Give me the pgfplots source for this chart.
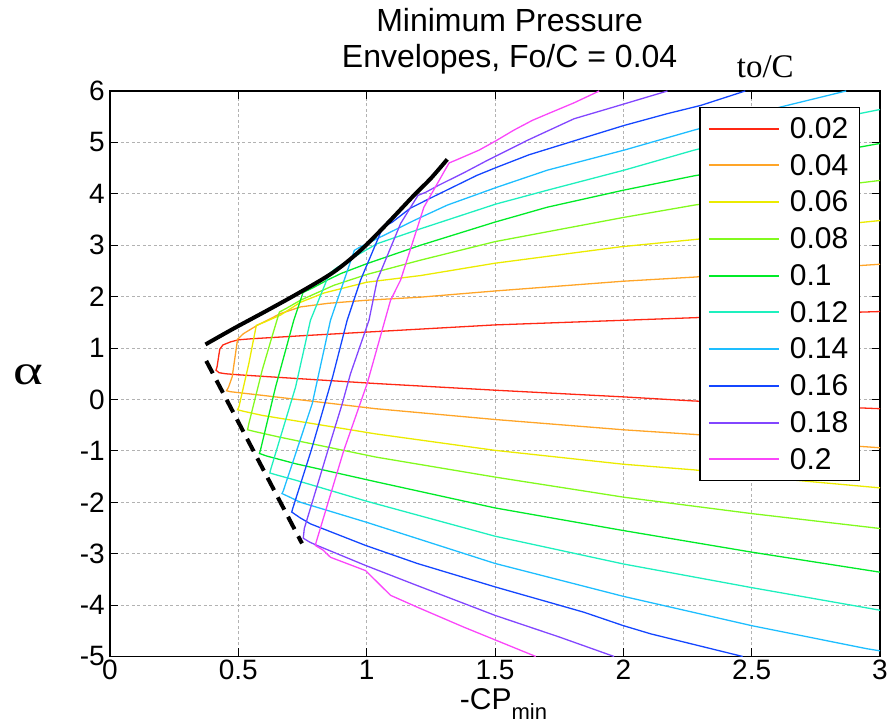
\documentclass[border=0pt]{standalone}
\usepackage{fontspec}
\setmainfont{Liberation Sans}
\newfontfamily\timesfont{Liberation Serif}
\usepackage{graphicx}
\usepackage{pgfplots}
\pgfplotsset{compat=1.18}
\definecolor{c1}{RGB}{255,40,20}
\definecolor{c2}{RGB}{255,165,40}
\definecolor{c3}{RGB}{235,235,0}
\definecolor{c4}{RGB}{130,250,30}
\definecolor{c5}{RGB}{0,235,40}
\definecolor{c6}{RGB}{30,240,190}
\definecolor{c7}{RGB}{30,190,255}
\definecolor{c8}{RGB}{20,70,255}
\definecolor{c9}{RGB}{130,70,255}
\definecolor{c10}{RGB}{250,70,250}
\begin{document}
\begin{tikzpicture}
\path[use as bounding box] (-110pt,-70.5pt) rectangle (784pt,656.5pt);
\begin{axis}[
  at={(0pt,0pt)}, anchor=south west,
  scale only axis, width=770pt, height=565.5pt,
  xmin=0, xmax=3, ymin=-5, ymax=6,
  xtick={0,0.5,1,1.5,2,2.5,3},
  xticklabels={0,0.5,1,1.5,2,2.5,3},
  ytick={-5,-4,-3,-2,-1,0,1,2,3,4,5,6},
  yticklabels={-5,-4,-3,-2,-1,0,1,2,3,4,5,6},
  grid=major,
  major grid style={gray!60, dash pattern=on 3pt off 2.5pt, line width=0.8pt},
  axis line style={line width=1.3pt},
  tick align=inside, major tick length=8pt,
  tick style={black, line width=1pt},
  ticklabel style={font=\fontsize{28}{30}\selectfont},
  yticklabel style={inner xsep=5pt},
  /pgf/number format/assume math mode=true,
  clip mode=individual,
  xlabel={-CP\raisebox{-10pt}{\fontsize{22}{24}\selectfont min}},
  xlabel style={at={(axis description cs:0.511,0)}, anchor=base, yshift=-53.5pt, font=\fontsize{30}{32}\selectfont},
  ylabel={\scalebox{1.35}[1.0]{α}},
  ylabel style={rotate=-90, at={(axis description cs:-0.1065,0.498)}, anchor=center, font=\timesfont\fontsize{42}{46}\selectfont},
  legend style={at={(0.974,0.972)}, anchor=north east, draw=black, line width=1.3pt, fill=white,
    font=\fontsize{30}{32}\selectfont, inner xsep=8pt, inner ysep=7pt, row sep=8.3pt,
    nodes={inner sep=3pt}, cells={anchor=west},
    /tikz/every odd column/.append style={column sep=7pt}},
  legend image code/.code={\draw[#1, line width=2pt] (0pt,0pt) -- (70pt,0pt);},
  every axis plot/.append style={line width=1.3pt},
]
\addplot[c1] coordinates {(3.0,1.71) (2.6,1.65) (2.276,1.59) (2.0,1.54) (1.5,1.45) (1.0,1.31) (0.75,1.24) (0.55,1.18) (0.50,1.16) (0.47,1.12) (0.44,1.06) (0.428,0.98) (0.424,0.86) (0.417,0.63) (0.413,0.57) (0.425,0.52) (0.45,0.50) (0.50,0.48) (0.593,0.45) (1.035,0.31) (1.5,0.18) (2.0,0.05) (2.276,-0.03) (2.6,-0.10) (3.0,-0.18)};
\addlegendentry{0.02}
\addplot[c2] coordinates {(3.0,2.63) (2.6,2.50) (2.276,2.38) (2.0,2.30) (1.5,2.11) (1.21,1.99) (1.0,1.93) (0.85,1.87) (0.742,1.80) (0.664,1.67) (0.573,1.44) (0.52,1.28) (0.497,1.17) (0.489,0.89) (0.476,0.44) (0.462,0.24) (0.454,0.17) (0.47,0.15) (0.593,0.08) (1.035,-0.18) (1.5,-0.39) (2.0,-0.59) (2.276,-0.68) (2.6,-0.80) (3.0,-0.94)};
\addlegendentry{0.04}
\addplot[c3] coordinates {(3.0,3.48) (2.6,3.28) (2.276,3.11) (1.99,2.97) (1.5,2.65) (1.21,2.41) (1.0,2.28) (0.833,2.07) (0.742,1.89) (0.664,1.64) (0.60,1.50) (0.570,1.44) (0.541,0.70) (0.502,-0.15) (0.497,-0.20) (0.52,-0.23) (0.593,-0.31) (1.035,-0.67) (1.5,-0.99) (2.0,-1.26) (2.276,-1.37) (2.6,-1.54) (3.0,-1.72)};
\addlegendentry{0.06}
\addplot[c4] coordinates {(3.0,4.26) (2.6,4.02) (2.276,3.78) (2.0,3.54) (1.5,3.07) (1.21,2.71) (1.0,2.43) (0.872,2.22) (0.742,1.93) (0.69,1.78) (0.660,1.70) (0.63,1.20) (0.593,0.57) (0.541,-0.47) (0.536,-0.59) (0.56,-0.62) (0.658,-0.73) (1.035,-1.12) (1.5,-1.51) (2.0,-1.90) (2.5,-2.22) (3.0,-2.51)};
\addlegendentry{0.08}
\addplot[c5] coordinates {(3.0,4.98) (2.6,4.62) (2.276,4.35) (2.0,4.07) (1.704,3.74) (1.5,3.45) (1.21,3.00) (1.0,2.64) (0.90,2.45) (0.846,2.32) (0.79,2.17) (0.752,2.08) (0.716,1.54) (0.645,0.24) (0.586,-0.99) (0.582,-1.05) (0.61,-1.10) (0.723,-1.25) (1.035,-1.60) (1.5,-2.11) (2.0,-2.55) (2.5,-2.97) (3.0,-3.36)};
\addlegendentry{0.1}
\addplot[c6] coordinates {(3.0,5.64) (2.6,5.24) (2.276,4.85) (2.003,4.46) (1.704,4.07) (1.503,3.80) (1.21,3.32) (1.041,3.03) (0.95,2.77) (0.88,2.55) (0.855,2.45) (0.781,1.54) (0.723,0.24) (0.625,-1.38) (0.623,-1.43) (0.65,-1.47) (0.723,-1.57) (1.0,-1.98) (1.5,-2.66) (2.0,-3.20) (2.5,-3.66) (3.0,-4.10)};
\addlegendentry{0.12}
\addplot[c7] coordinates {(2.868,6.0) (2.614,5.69) (2.276,5.24) (2.003,4.85) (1.704,4.46) (1.503,4.12) (1.314,3.78) (1.184,3.48) (1.054,3.16) (0.98,2.98) (0.952,2.90) (0.859,1.54) (0.788,-0.08) (0.675,-1.78) (0.670,-1.83) (0.70,-1.90) (0.742,-2.00) (1.0,-2.39) (1.5,-3.19) (2.0,-3.83) (2.5,-4.40) (2.95,-4.85) (3.0,-4.89)};
\addlegendentry{0.14}
\addplot[c8] coordinates {(2.475,6.0) (2.302,5.72) (2.172,5.56) (2.003,5.33) (1.834,5.07) (1.633,4.76) (1.509,4.52) (1.43,4.36) (1.25,3.92) (1.17,3.72) (1.10,3.45) (1.063,3.35) (0.976,2.32) (0.924,1.54) (0.868,0.45) (0.784,-0.99) (0.712,-2.12) (0.708,-2.19) (0.74,-2.30) (0.781,-2.42) (0.996,-2.84) (1.197,-3.19) (1.503,-3.65) (1.847,-4.14) (2.0,-4.40) (2.107,-4.56) (2.465,-5.0)};
\addlegendentry{0.16}
\addplot[c9] coordinates {(2.172,6.0) (1.964,5.69) (1.808,5.46) (1.626,5.04) (1.470,4.65) (1.379,4.41) (1.282,4.17) (1.23,4.03) (1.20,3.97) (1.132,3.42) (1.041,2.32) (1.009,1.54) (0.937,0.50) (0.905,-0.08) (0.849,-0.99) (0.757,-2.51) (0.753,-2.70) (0.78,-2.78) (0.807,-2.84) (0.996,-3.23) (1.197,-3.62) (1.5,-4.20) (1.75,-4.62) (1.964,-5.0)};
\addlegendentry{0.18}
\addplot[c10] coordinates {(1.906,6.0) (1.808,5.77) (1.717,5.58) (1.646,5.43) (1.574,5.24) (1.503,5.03) (1.438,4.85) (1.35,4.66) (1.321,4.60) (1.223,3.74) (1.132,2.32) (1.093,1.93) (1.002,0.31) (0.911,-0.99) (0.803,-2.78) (0.800,-2.84) (0.83,-2.93) (0.859,-3.07) (0.996,-3.33) (1.093,-3.81) (1.197,-4.04) (1.379,-4.43) (1.659,-5.0)};
\addlegendentry{0.2}
\addplot[black, line width=4pt, smooth, forget plot] coordinates {(0.372,1.07) (0.482,1.38) (0.612,1.73) (0.742,2.09) (0.872,2.48) (0.976,2.90) (1.080,3.42) (1.184,3.97) (1.25,4.30) (1.314,4.67)};
\addplot[black, line width=4pt, dash pattern=on 14pt off 8pt, forget plot] coordinates {(0.375,0.75) (0.748,-2.80)};
\node[anchor=base, yshift=59pt, font=\fontsize{32}{34}\selectfont] at (rel axis cs:0.519,1) {Minimum Pressure};
\node[anchor=base, yshift=23pt, font=\fontsize{32}{34}\selectfont] at (rel axis cs:0.519,1) {Envelopes, Fo/C = 0.04};
\node[anchor=base, yshift=13pt, font=\timesfont\fontsize{33}{36}\selectfont] at (rel axis cs:0.851,1) {to/C};
\end{axis}
\end{tikzpicture}
\end{document}
